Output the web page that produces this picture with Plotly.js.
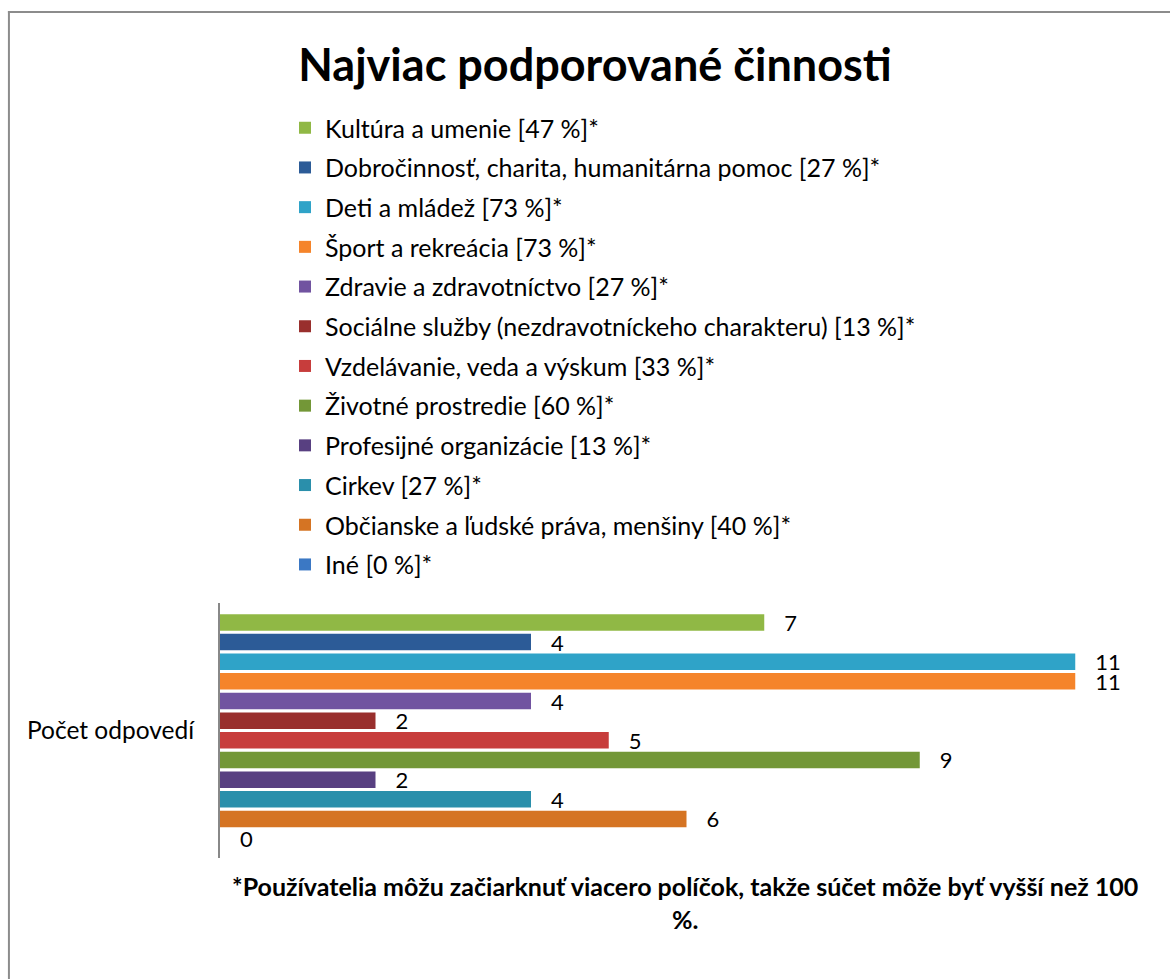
<!DOCTYPE html>
<html>
<head>
<meta charset="utf-8">
<script src="https://cdn.plot.ly/plotly-3.0.1.min.js"></script>
<style>html,body{margin:0;padding:0;background:#fff;}#chart{width:1170px;height:979px;}</style>
</head>
<body>
<div id="chart"></div>
<script>
var category = "Počet odpovedí";
var seriesNames = [
  "Kultúra a umenie [47 %]*",
  "Dobročinnosť, charita, humanitárna pomoc [27 %]*",
  "Deti a mládež [73 %]*",
  "Šport a rekreácia [73 %]*",
  "Zdravie a zdravotníctvo [27 %]*",
  "Sociálne služby (nezdravotníckeho charakteru) [13 %]*",
  "Vzdelávanie, veda a výskum [33 %]*",
  "Životné prostredie [60 %]*",
  "Profesijné organizácie [13 %]*",
  "Cirkev [27 %]*",
  "Občianske a ľudské práva, menšiny [40 %]*",
  "Iné [0 %]*"
];
var seriesValues = [7, 4, 11, 11, 4, 2, 5, 9, 2, 4, 6, 0];
var seriesColors = ["#90b845", "#2c5b97", "#2fa3c8", "#f5842a", "#7153a0", "#992f2d",
                    "#c73d3c", "#739737", "#584081", "#2a8fab", "#d57423", "#3b78c4"];

var FONT = "Lato, 'Noto Sans', sans-serif";
var NB = "\u00a0\u00a0\u00a0";
var traces = seriesNames.map(function (name, i) {
  return {
    type: "bar",
    orientation: "h",
    name: name,
    legendgroup: "g" + i,
    y: [category],
    x: [seriesValues[i]],
    text: [NB + seriesValues[i]],
    textposition: "outside",
    constraintext: "none",
    cliponaxis: false,
    textfont: {family: FONT, size: 22, color: "#000"},
    marker: {color: seriesColors[i], line: {width: 0}},
    hoverinfo: "skip"
  };
});

var L = 220, R = 1152.7, T = 603, B = 858;
var pw = R - L, ph = B - T;
function px(x) { return (x - L) / pw; }
function py(y) { return (B - y) / ph; }

var layout = {
  width: 1170,
  height: 979,
  paper_bgcolor: "#ffffff",
  plot_bgcolor: "#ffffff",
  margin: {l: L, r: 1170 - R, t: T, b: 979 - B, pad: 0},
  font: {family: FONT, color: "#000"},
  title: {
    text: "<b>Najviac podporované činnosti</b>",
    font: {family: FONT, size: 45, color: "#000"},
    x: 595 / 1170, xref: "container", xanchor: "center",
    y: 1 - 65 / 979, yref: "container", yanchor: "middle"
  },
  barmode: "group",
  bargap: 0.075,
  bargroupgap: 0.16,
  showlegend: true,
  legend: {
    x: px(285), xanchor: "left",
    y: py(105), yanchor: "top",
    traceorder: "grouped",
    tracegroupgap: 4.2,
    font: {family: FONT, size: 25, color: "#000"},
    bgcolor: "rgba(0,0,0,0)",
    itemclick: false
  },
  xaxis: {range: [0, 12], visible: false, fixedrange: true},
  yaxis: {
    autorange: "reversed",
    showline: true, linecolor: "#888888", linewidth: 2,
    showgrid: false, zeroline: false, ticks: "",
    ticklabelstandoff: 19,
    tickfont: {family: FONT, size: 24.5, color: "#000"},
    fixedrange: true
  },
  shapes: [
    {type: "line", xref: "paper", yref: "paper", x0: px(9), x1: px(9), y0: py(11), y1: py(979),
     line: {color: "#8c8c8c", width: 2}},
    {type: "line", xref: "paper", yref: "paper", x0: px(8), x1: px(1170), y0: py(12), y1: py(12),
     line: {color: "#8c8c8c", width: 2}}
  ],
  annotations: [
    {text: "<b>*Používatelia môžu začiarknuť viacero políčok, takže súčet môže byť vyšší než 100<br>%.</b>",
     xref: "paper", yref: "paper", x: px(685), y: py(869), xanchor: "center", yanchor: "top",
     showarrow: false, align: "center",
     font: {family: FONT, size: 25, color: "#000"}}
  ]
};

Plotly.newPlot("chart", traces, layout, {displayModeBar: false, staticPlot: true});
</script>
</body>
</html>
